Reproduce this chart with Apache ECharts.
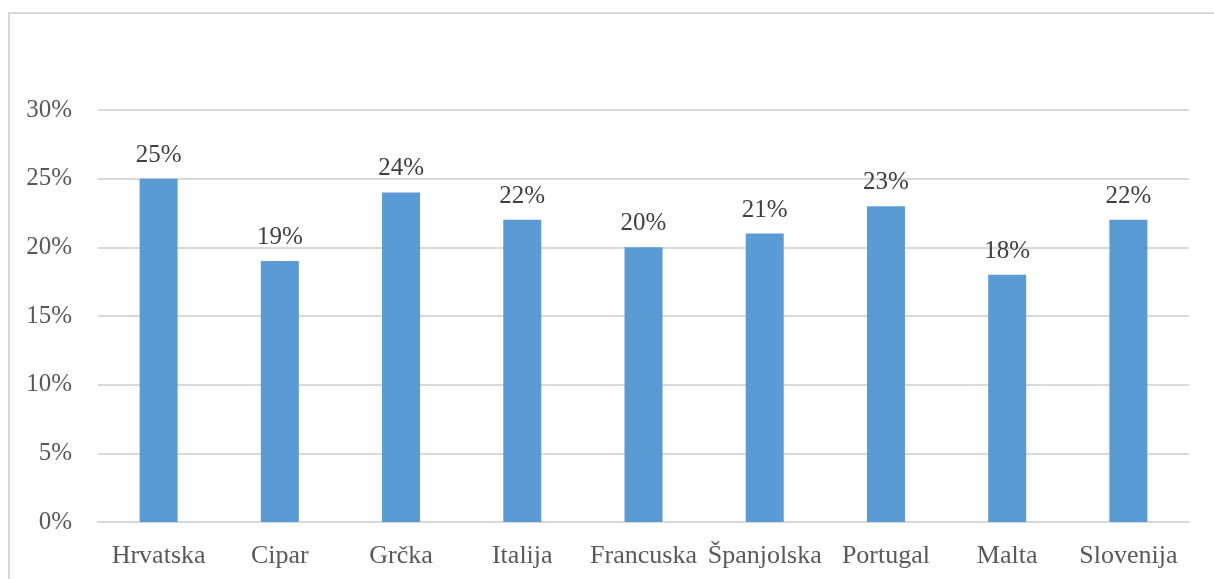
<!DOCTYPE html>
<html><head><meta charset="utf-8">
<script src="https://cdn.jsdelivr.net/npm/echarts@6/dist/echarts.min.js"></script>
<style>
html,body{margin:0;padding:0;background:#fff;overflow:hidden}
#frame{position:absolute;left:8px;top:12px;width:1220px;height:600px;border:2px solid #d9d9d9;box-sizing:border-box}
#c{position:absolute;left:0;top:0;width:1214px;height:579px}
</style></head>
<body>
<div id="frame"></div>
<div id="c"></div>
<script>
const categories = ["Hrvatska","Cipar","Grčka","Italija","Francuska","Španjolska","Portugal","Malta","Slovenija"];
const values = [25,19,24,22,20,21,23,18,22];
const yTicks = {min:0, max:30, interval:5};
const chart = echarts.init(document.getElementById('c'));
const font = '"Liberation Serif","Times New Roman",serif';
chart.setOption({
  animation:false,
  grid:{left:98,right:25,top:110,bottom:57,containLabel:false},
  xAxis:{type:'category',data:categories,
    axisLine:{show:true,lineStyle:{color:'#d9d9d9',width:2}},
    axisTick:{show:false},
    axisLabel:{color:'#595959',fontFamily:font,fontSize:26,margin:21,interval:0}},
  yAxis:{type:'value',min:yTicks.min,max:yTicks.max,interval:yTicks.interval,
    axisLine:{show:false},axisTick:{show:false},
    splitLine:{lineStyle:{color:'#d9d9d9',width:2}},
    axisLabel:{color:'#595959',fontFamily:font,fontSize:25,margin:26,formatter:v=>v+'%'}},
  series:[{type:'bar',data:values,barWidth:38,
    itemStyle:{color:'#5b9bd5'},
    label:{show:true,position:'top',distance:11,color:'#404040',fontFamily:font,fontSize:25,formatter:p=>p.value+'%'}}]
});
</script>
</body></html>
